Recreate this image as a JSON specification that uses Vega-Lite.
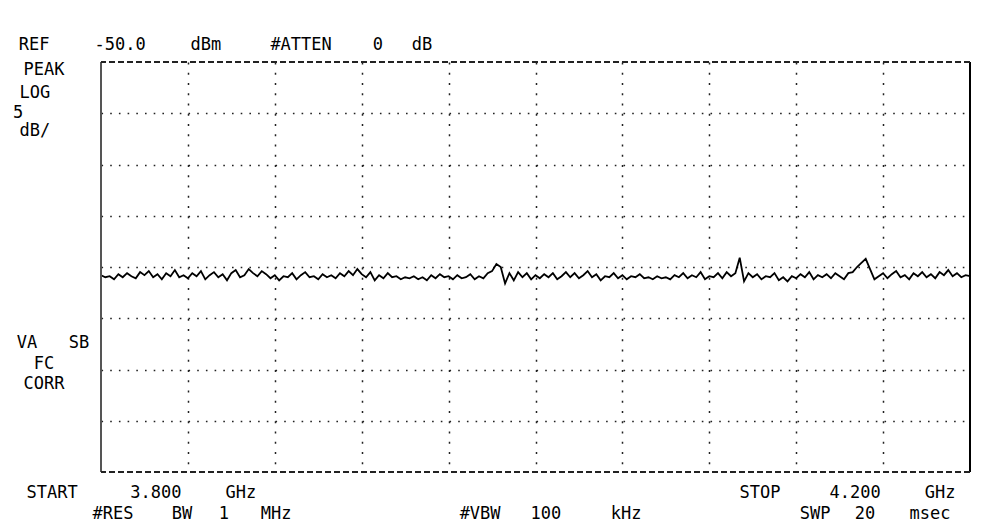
{
  "$schema": "https://vega.github.io/schema/vega-lite/v6.json",
  "width": 869,
  "height": 410,
  "autosize": {"type": "none"},
  "padding": {"left": 101, "top": 62, "right": 11, "bottom": 51},
  "background": "white",
  "config": {"view": {"stroke": null}},
  "datasets": {
    "trace": [
      {"f":3.800,"p":-70.8},{"f":3.802,"p":-71.0},{"f":3.804,"p":-70.9},{"f":3.806,"p":-71.2},{"f":3.808,"p":-70.7},
      {"f":3.810,"p":-71.0},{"f":3.812,"p":-70.6},{"f":3.814,"p":-70.9},{"f":3.816,"p":-71.1},{"f":3.818,"p":-70.5},
      {"f":3.820,"p":-70.8},{"f":3.822,"p":-70.4},{"f":3.824,"p":-71.0},{"f":3.826,"p":-70.7},{"f":3.828,"p":-71.2},
      {"f":3.830,"p":-70.6},{"f":3.832,"p":-70.9},{"f":3.834,"p":-70.3},{"f":3.836,"p":-71.0},{"f":3.838,"p":-70.8},
      {"f":3.840,"p":-71.1},{"f":3.842,"p":-70.6},{"f":3.844,"p":-70.9},{"f":3.846,"p":-70.4},{"f":3.848,"p":-71.2},
      {"f":3.850,"p":-70.8},{"f":3.852,"p":-70.5},{"f":3.854,"p":-71.0},{"f":3.856,"p":-70.7},{"f":3.858,"p":-71.3},
      {"f":3.860,"p":-70.6},{"f":3.862,"p":-70.3},{"f":3.864,"p":-71.0},{"f":3.866,"p":-70.8},{"f":3.868,"p":-70.2},
      {"f":3.870,"p":-70.6},{"f":3.872,"p":-70.9},{"f":3.874,"p":-70.4},{"f":3.876,"p":-70.7},{"f":3.878,"p":-71.1},
      {"f":3.880,"p":-70.8},{"f":3.882,"p":-71.3},{"f":3.884,"p":-70.9},{"f":3.886,"p":-71.0},{"f":3.888,"p":-70.6},
      {"f":3.890,"p":-71.2},{"f":3.892,"p":-70.8},{"f":3.894,"p":-70.5},{"f":3.896,"p":-71.0},{"f":3.898,"p":-70.9},
      {"f":3.900,"p":-71.2},{"f":3.902,"p":-70.7},{"f":3.904,"p":-71.0},{"f":3.906,"p":-70.8},{"f":3.908,"p":-71.1},
      {"f":3.910,"p":-70.6},{"f":3.912,"p":-70.9},{"f":3.914,"p":-70.4},{"f":3.916,"p":-70.8},{"f":3.918,"p":-70.2},
      {"f":3.920,"p":-70.7},{"f":3.922,"p":-71.0},{"f":3.924,"p":-70.5},{"f":3.926,"p":-71.3},{"f":3.928,"p":-70.8},
      {"f":3.930,"p":-71.1},{"f":3.932,"p":-70.6},{"f":3.934,"p":-71.0},{"f":3.936,"p":-70.9},{"f":3.938,"p":-71.2},
      {"f":3.940,"p":-71.0},{"f":3.942,"p":-71.1},{"f":3.944,"p":-70.9},{"f":3.946,"p":-71.2},{"f":3.948,"p":-71.0},
      {"f":3.950,"p":-71.3},{"f":3.952,"p":-70.8},{"f":3.954,"p":-71.1},{"f":3.956,"p":-70.7},{"f":3.958,"p":-71.0},
      {"f":3.960,"p":-70.9},{"f":3.962,"p":-71.2},{"f":3.964,"p":-70.8},{"f":3.966,"p":-71.1},{"f":3.968,"p":-71.0},
      {"f":3.970,"p":-70.7},{"f":3.972,"p":-71.2},{"f":3.974,"p":-70.9},{"f":3.976,"p":-71.1},{"f":3.978,"p":-70.6},
      {"f":3.980,"p":-70.4},{"f":3.982,"p":-69.7},{"f":3.984,"p":-70.0},{"f":3.986,"p":-71.6},{"f":3.988,"p":-70.6},
      {"f":3.990,"p":-71.3},{"f":3.992,"p":-70.5},{"f":3.994,"p":-71.0},{"f":3.996,"p":-70.6},{"f":3.998,"p":-71.2},
      {"f":4.000,"p":-70.8},{"f":4.002,"p":-71.1},{"f":4.004,"p":-70.7},{"f":4.006,"p":-71.0},{"f":4.008,"p":-70.6},
      {"f":4.010,"p":-71.2},{"f":4.012,"p":-70.9},{"f":4.014,"p":-70.5},{"f":4.016,"p":-71.0},{"f":4.018,"p":-70.6},
      {"f":4.020,"p":-71.1},{"f":4.022,"p":-70.8},{"f":4.024,"p":-70.4},{"f":4.026,"p":-71.0},{"f":4.028,"p":-70.7},
      {"f":4.030,"p":-71.3},{"f":4.032,"p":-70.9},{"f":4.034,"p":-71.0},{"f":4.036,"p":-70.6},{"f":4.038,"p":-71.1},
      {"f":4.040,"p":-70.8},{"f":4.042,"p":-71.2},{"f":4.044,"p":-70.9},{"f":4.046,"p":-71.0},{"f":4.048,"p":-70.7},
      {"f":4.050,"p":-71.1},{"f":4.052,"p":-71.0},{"f":4.054,"p":-71.2},{"f":4.056,"p":-70.9},{"f":4.058,"p":-71.1},
      {"f":4.060,"p":-71.0},{"f":4.062,"p":-71.2},{"f":4.064,"p":-70.8},{"f":4.066,"p":-71.0},{"f":4.068,"p":-70.6},
      {"f":4.070,"p":-71.1},{"f":4.072,"p":-70.8},{"f":4.074,"p":-71.0},{"f":4.076,"p":-70.5},{"f":4.078,"p":-71.2},
      {"f":4.080,"p":-70.9},{"f":4.082,"p":-71.0},{"f":4.084,"p":-70.6},{"f":4.086,"p":-71.1},{"f":4.088,"p":-70.5},
      {"f":4.090,"p":-70.9},{"f":4.092,"p":-70.6},{"f":4.094,"p":-69.1},{"f":4.096,"p":-71.4},{"f":4.098,"p":-70.6},
      {"f":4.100,"p":-71.0},{"f":4.102,"p":-70.7},{"f":4.104,"p":-71.2},{"f":4.106,"p":-70.9},{"f":4.108,"p":-71.0},
      {"f":4.110,"p":-70.6},{"f":4.112,"p":-71.3},{"f":4.114,"p":-71.0},{"f":4.116,"p":-71.4},{"f":4.118,"p":-70.9},
      {"f":4.120,"p":-71.1},{"f":4.122,"p":-70.7},{"f":4.124,"p":-71.0},{"f":4.126,"p":-70.5},{"f":4.128,"p":-71.2},
      {"f":4.130,"p":-70.8},{"f":4.132,"p":-71.0},{"f":4.134,"p":-70.7},{"f":4.136,"p":-71.1},{"f":4.138,"p":-70.6},
      {"f":4.140,"p":-70.9},{"f":4.142,"p":-71.2},{"f":4.144,"p":-70.6},{"f":4.146,"p":-70.5},{"f":4.148,"p":-70.0},
      {"f":4.150,"p":-69.6},{"f":4.152,"p":-69.2},{"f":4.154,"p":-70.2},{"f":4.156,"p":-71.2},{"f":4.158,"p":-70.9},
      {"f":4.160,"p":-70.6},{"f":4.162,"p":-71.1},{"f":4.164,"p":-70.7},{"f":4.166,"p":-70.4},{"f":4.168,"p":-71.0},
      {"f":4.170,"p":-70.8},{"f":4.172,"p":-71.2},{"f":4.174,"p":-70.6},{"f":4.176,"p":-70.9},{"f":4.178,"p":-70.5},
      {"f":4.180,"p":-71.0},{"f":4.182,"p":-70.7},{"f":4.184,"p":-71.1},{"f":4.186,"p":-70.5},{"f":4.188,"p":-70.8},
      {"f":4.190,"p":-70.3},{"f":4.192,"p":-70.9},{"f":4.194,"p":-70.6},{"f":4.196,"p":-71.0},{"f":4.198,"p":-70.8},
      {"f":4.200,"p":-70.9}
    ],
    "labels": [
      {"t":"REF","f":3.7692,"p":-48.83},
      {"t":"-50.0","f":3.8088,"p":-48.83},
      {"t":"dBm","f":3.8483,"p":-48.83},
      {"t":"#ATTEN","f":3.8921,"p":-48.83},
      {"t":"0","f":3.9275,"p":-48.83},
      {"t":"dB","f":3.9478,"p":-48.83},
      {"t":"PEAK","f":3.7738,"p":-51.27},
      {"t":"LOG","f":3.7696,"p":-53.51},
      {"t":"5","f":3.7618,"p":-55.46},
      {"t":"dB/","f":3.7696,"p":-57.22},
      {"t":"VA","f":3.7659,"p":-77.90},
      {"t":"SB","f":3.7899,"p":-77.90},
      {"t":"FC","f":3.7738,"p":-79.95},
      {"t":"CORR","f":3.7738,"p":-81.90},
      {"t":"START","f":3.7775,"p":-92.53},
      {"t":"3.800","f":3.8253,"p":-92.53},
      {"t":"GHz","f":3.8644,"p":-92.53},
      {"t":"STOP","f":4.1033,"p":-92.53},
      {"t":"4.200","f":4.1471,"p":-92.53},
      {"t":"GHz","f":4.1862,"p":-92.53},
      {"t":"#RES","f":3.8055,"p":-94.59},
      {"t":"BW","f":3.8373,"p":-94.59},
      {"t":"1","f":3.8566,"p":-94.59},
      {"t":"MHz","f":3.8806,"p":-94.59},
      {"t":"#VBW","f":3.9745,"p":-94.59},
      {"t":"100","f":4.0048,"p":-94.59},
      {"t":"kHz","f":4.0417,"p":-94.59},
      {"t":"SWP","f":4.1287,"p":-94.59},
      {"t":"20","f":4.1517,"p":-94.59},
      {"t":"msec","f":4.1816,"p":-94.59}
    ],
    "one": [{"k": 1}]
  },
  "layer": [
    {
      "data": {"name": "trace"},
      "mark": {"type": "line", "color": "#000000", "strokeWidth": 1.8, "interpolate": "linear"},
      "encoding": {
        "x": {
          "field": "f", "type": "quantitative",
          "scale": {"domain": [3.8, 4.2], "nice": false, "zero": false},
          "axis": {
            "values": [3.84, 3.88, 3.92, 3.96, 4.0, 4.04, 4.08, 4.12, 4.16],
            "grid": true, "gridDash": [2, 8.25], "gridColor": "#222222", "gridWidth": 1.5,
            "labels": false, "ticks": false, "domain": false, "title": null
          }
        },
        "y": {
          "field": "p", "type": "quantitative",
          "scale": {"domain": [-90, -50], "nice": false, "zero": false},
          "axis": {
            "values": [-85, -80, -75, -70, -65, -60, -55],
            "grid": true, "gridDash": [1.6, 7.1], "gridColor": "#222222", "gridWidth": 1.5,
            "labels": false, "ticks": false, "domain": false, "title": null
          }
        }
      }
    },
    {
      "data": {"name": "one"},
      "mark": {"type": "rule", "color": "#555555", "strokeWidth": 2},
      "encoding": {
        "x": {"datum": 3.8, "type": "quantitative", "scale": {"domain": [3.8, 4.2], "nice": false, "zero": false}}
      }
    },
    {
      "data": {"name": "one"},
      "mark": {"type": "rule", "color": "#000000", "strokeWidth": 2},
      "encoding": {
        "x": {"datum": 4.2, "type": "quantitative", "scale": {"domain": [3.8, 4.2], "nice": false, "zero": false}}
      }
    },
    {
      "data": {"name": "one"},
      "mark": {"type": "rule", "color": "#222222", "strokeWidth": 2, "strokeDash": [6, 3]},
      "encoding": {
        "y": {"datum": -50, "type": "quantitative", "scale": {"domain": [-90, -50], "nice": false, "zero": false}}
      }
    },
    {
      "data": {"name": "one"},
      "mark": {"type": "rule", "color": "#222222", "strokeWidth": 2, "strokeDash": [6, 3]},
      "encoding": {
        "y": {"datum": -90, "type": "quantitative", "scale": {"domain": [-90, -50], "nice": false, "zero": false}}
      }
    },
    {
      "data": {"name": "labels"},
      "mark": {"type": "text", "font": "DejaVu Sans Mono", "fontSize": 17, "color": "#000000", "align": "center", "baseline": "alphabetic"},
      "encoding": {
        "x": {"field": "f", "type": "quantitative", "scale": {"domain": [3.8, 4.2], "nice": false, "zero": false}},
        "y": {"field": "p", "type": "quantitative", "scale": {"domain": [-90, -50], "nice": false, "zero": false}},
        "text": {"field": "t", "type": "nominal"}
      }
    }
  ]
}
